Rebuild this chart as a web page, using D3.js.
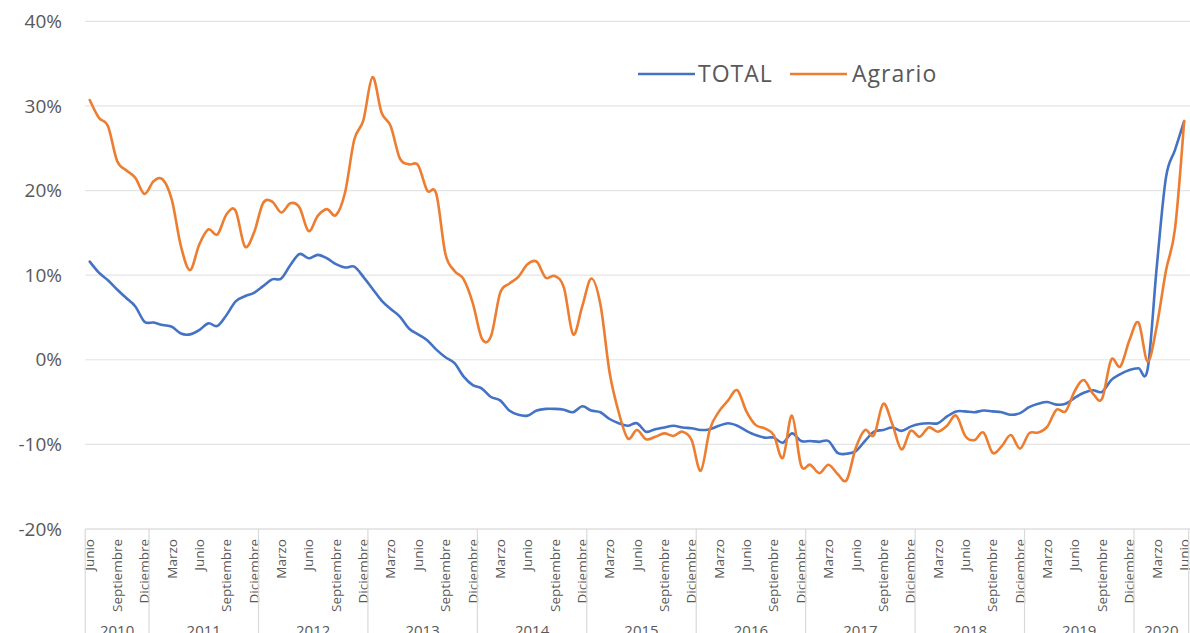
<!DOCTYPE html>
<html>
<head>
<meta charset="utf-8">
<script src="https://cdn.jsdelivr.net/npm/d3@7"></script>
<style>
  html, body { margin: 0; padding: 0; background: #fff; }
  svg { display: block; font-family: "Open Sans", "Noto Sans", sans-serif; }
</style>
</head>
<body>
<svg id="chart" width="1190" height="633"></svg>
<script>
// ---- data ----
const years = ["2010","2011","2012","2013","2014","2015","2016","2017","2018","2019","2020"];
const monthNames = ["Enero","Febrero","Marzo","Abril","Mayo","Junio","Julio","Agosto","Septiembre","Octubre","Noviembre","Diciembre"];
const shownMonths = ["Marzo","Junio","Septiembre","Diciembre"];
const yTicks = [-20, -10, 0, 10, 20, 30, 40];
const seriesNames = ["TOTAL", "Agrario"];

// monthly values, June 2010 .. June 2020 (%)
const total = [
  11.6, 10.3, 9.4, 8.3, 7.3, 6.3, 4.5,
  4.4, 4.1, 3.9, 3.1, 3.0, 3.5, 4.3, 4.0, 5.3, 6.9, 7.5, 7.9,
  8.7, 9.5, 9.6, 11.2, 12.5, 12.0, 12.4, 12.0, 11.3, 10.9, 11.0, 9.8,
  8.4, 7.0, 6.0, 5.1, 3.7, 3.0, 2.3, 1.2, 0.3, -0.4, -2.0, -3.0,
  -3.4, -4.4, -4.8, -6.0, -6.5, -6.6, -6.0, -5.8, -5.8, -5.9, -6.2, -5.5,
  -6.0, -6.2, -7.0, -7.5, -7.8, -7.5, -8.5, -8.2, -8.0, -7.8, -8.0, -8.1,
  -8.3, -8.2, -7.8, -7.5, -7.8, -8.4, -8.9, -9.2, -9.2, -9.8, -8.7, -9.6,
  -9.6, -9.7, -9.6, -11.0, -11.1, -10.8, -9.6, -8.5, -8.3, -8.0, -8.4, -7.9,
  -7.6, -7.5, -7.5, -6.7, -6.1, -6.1, -6.2, -6.0, -6.1, -6.2, -6.5, -6.3,
  -5.6, -5.2, -5.0, -5.3, -5.2, -4.5, -3.9, -3.6, -3.8, -2.4, -1.7, -1.2,
  -1.0, -1.1, 11.0, 21.5, 24.8, 28.2
];
const agrario = [
  30.7, 28.6, 27.6, 23.5, 22.4, 21.5, 19.6,
  21.1, 21.3, 18.9, 13.4, 10.6, 13.6, 15.4, 14.8, 17.2, 17.6, 13.4, 15.0,
  18.5, 18.7, 17.4, 18.5, 18.0, 15.2, 17.0, 17.8, 17.1, 19.8, 26.0, 28.3,
  33.4, 29.2, 27.6, 23.8, 23.1, 23.0, 20.0, 19.6, 12.5, 10.5, 9.5, 6.7,
  2.5, 2.8, 7.9, 9.0, 9.8, 11.3, 11.6, 9.7, 9.9, 8.5, 3.0, 6.3,
  9.6, 6.5, -1.5, -6.2, -9.3, -8.3, -9.4, -9.1, -8.7, -9.0, -8.5, -9.5,
  -13.1, -8.2, -6.1, -4.8, -3.6, -6.1, -7.7, -8.1, -8.9, -11.6, -6.6, -12.5,
  -12.4, -13.4, -12.4, -13.5, -14.2, -10.4, -8.3, -8.9, -5.2, -7.6, -10.6, -8.4,
  -9.1, -8.0, -8.5, -7.8, -6.6, -9.0, -9.5, -8.6, -11.0, -10.2, -8.9, -10.5,
  -8.7, -8.6, -7.9, -5.9, -6.1, -3.7, -2.4, -4.0, -4.6, 0.0, -0.8, 2.3,
  4.4, -0.2, 4.0, 10.5, 15.5, 28.2
];

// categories: June 2010 .. June 2020
const categories = [];
for (let yi = 0; yi < years.length; yi++) {
  for (let m = 0; m < 12; m++) {
    if (yi === 0 && m < 5) continue;
    if (yi === years.length - 1 && m > 5) continue;
    categories.push({ year: years[yi], month: monthNames[m], idx: categories.length });
  }
}

// ---- layout ----
const svg = d3.select("#chart");
const plotLeft = 85.2, plotRight = 1188.7, plotTop = 21.3, plotBottom = 529;
const gridColor = "#d9d9d9", textColor = "#595959";
const colors = ["#4472C4", "#ED7D31"];

const x = d3.scaleBand().domain(categories.map(d => d.idx)).range([plotLeft, plotRight]).padding(0);
const y = d3.scaleLinear().domain([-20, 40]).range([plotBottom, plotTop]);
const cx = i => x(i) + x.bandwidth() / 2;

// gridlines
svg.append("g").selectAll("line").data(yTicks).join("line")
  .attr("x1", plotLeft).attr("x2", 1190)
  .attr("y1", d => y(d)).attr("y2", d => y(d))
  .attr("stroke", d => d === -20 ? "#cfcfcf" : "#e4e4e4")
  .attr("stroke-width", 1.2);

// y labels
svg.append("g").selectAll("text").data(yTicks).join("text")
  .attr("x", 62).attr("y", d => y(d)).attr("dy", "0.35em")
  .attr("text-anchor", "end").attr("fill", textColor)
  .style("font-size", "19px")
  .text(d => d + "%");

// x month labels
const shown = categories.filter(d => shownMonths.includes(d.month));
svg.append("g").selectAll("text").data(shown).join("text")
  .attr("transform", d => `translate(${cx(d.idx)},539) rotate(-90)`)
  .attr("dy", "0.35em").attr("text-anchor", "end")
  .attr("fill", textColor).style("font-size", "13.5px")
  .text(d => d.month);

// year separators and labels
const yearGroups = d3.groups(categories, d => d.year);
const sepX = [plotLeft];
yearGroups.forEach(([yr, arr]) => sepX.push(x(arr[arr.length - 1].idx) + x.bandwidth()));
svg.append("g").selectAll("line").data(sepX).join("line")
  .attr("x1", d => d).attr("x2", d => d)
  .attr("y1", plotBottom).attr("y2", 633)
  .attr("stroke", gridColor).attr("stroke-width", 1.2);

svg.append("g").selectAll("text").data(yearGroups).join("text")
  .attr("x", ([yr, arr]) => (x(arr[0].idx) + x(arr[arr.length - 1].idx) + x.bandwidth()) / 2)
  .attr("y", 636).attr("text-anchor", "middle")
  .attr("fill", textColor).style("font-size", "15px")
  .text(([yr]) => yr);

// lines
const line = d3.line()
  .x((d, i) => cx(i))
  .y(d => y(d))
  .curve(d3.curveCardinal.tension(0));

[total, agrario].forEach((s, k) => {
  svg.append("path").datum(s)
    .attr("d", line)
    .attr("fill", "none")
    .attr("stroke", colors[k])
    .attr("stroke-width", 2.6)
    .attr("stroke-linejoin", "round")
    .attr("stroke-linecap", "round");
});

// legend
const legend = svg.append("g");
const legendPos = [{ x1: 638, tx: 698 }, { x1: 790, tx: 852 }];
seriesNames.forEach((name, k) => {
  legend.append("line")
    .attr("x1", legendPos[k].x1).attr("x2", legendPos[k].x1 + 57)
    .attr("y1", 74).attr("y2", 74)
    .attr("stroke", colors[k]).attr("stroke-width", 2.6);
  legend.append("text")
    .attr("x", legendPos[k].tx).attr("y", 74).attr("dy", "0.35em")
    .attr("fill", textColor).style("font-size", "23px")
    .style("letter-spacing", "1px")
    .text(name);
});
</script>
</body>
</html>
